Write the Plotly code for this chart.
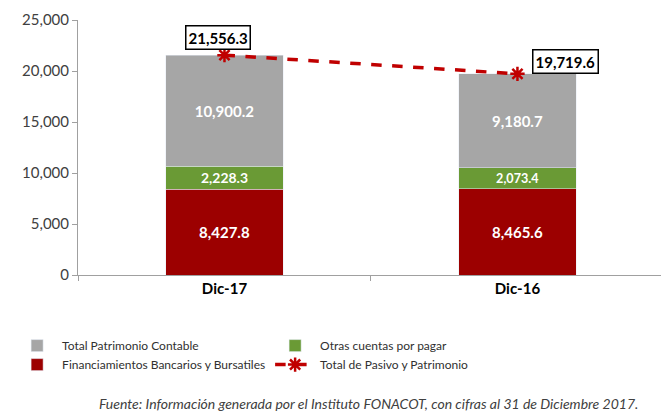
import plotly.graph_objects as go

categories = ["Dic-17", "Dic-16"]
financiamientos = [8427.8, 8465.6]
otras_cuentas = [2228.3, 2073.4]
patrimonio = [10900.2, 9180.7]
total_pasivo_patrimonio = [21556.3, 19719.6]
y_ticks = [0, 5000, 10000, 15000, 20000, 25000]

FONT = "Lato, 'Open Sans', sans-serif"
bar_w = 0.4

def fmt(v):
    return f"{v:,.1f}"

fig = go.Figure()
fig.add_trace(go.Bar(
    x=categories, y=financiamientos, name="Financiamientos Bancarios y Bursatiles",
    marker_color="#9c0000", width=bar_w, legendrank=3,
    text=[fmt(v) for v in financiamientos], textposition="inside", insidetextanchor="middle",
    textfont=dict(color="white", size=15, family=FONT, weight="bold"),
))
fig.add_trace(go.Bar(
    x=categories, y=otras_cuentas, name="Otras cuentas por pagar",
    marker_color="#6a9a35", width=bar_w, legendrank=2,
    text=[fmt(v) for v in otras_cuentas], textposition="inside", insidetextanchor="middle",
    textfont=dict(color="white", size=15, family=FONT, weight="bold"),
))
fig.add_trace(go.Bar(
    x=categories, y=patrimonio, name="Total Patrimonio Contable",
    marker_color="#a6a6a6", width=bar_w, legendrank=1,
    text=[fmt(v) for v in patrimonio], textposition="inside", insidetextanchor="middle",
    textfont=dict(color="white", size=15, family=FONT, weight="bold"),
))
fig.add_trace(go.Scatter(
    x=categories, y=total_pasivo_patrimonio, name="Total de Pasivo y Patrimonio",
    mode="lines+markers", legendrank=4,
    line=dict(color="#c00000", width=3.5, dash="dash"),
    marker=dict(symbol="asterisk-open", size=12, line=dict(color="#c00000", width=2.5)),
))

shifts = [(-6, 18), (48, 12)]
for c, v, (dx, dy) in zip(categories, total_pasivo_patrimonio, shifts):
    fig.add_annotation(
        x=c, y=v, text=f"<b>{fmt(v)}</b>", showarrow=False,
        xshift=dx, yshift=dy, font=dict(size=15, color="black", family=FONT),
        bgcolor="white", bordercolor="black", borderwidth=1.5, borderpad=2,
    )

fig.add_annotation(
    xref="paper", yref="paper", x=0.033, y=-0.505, xanchor="left", yanchor="middle",
    text="<i>Fuente: Información generada por el Instituto FONACOT, con cifras al 31 de Diciembre 2017.</i>",
    showarrow=False, font=dict(size=14, color="#404040", family=FONT),
)

fig.update_layout(
    barmode="stack",
    width=661, height=413,
    margin=dict(l=78, r=0, t=20, b=138),
    paper_bgcolor="white", plot_bgcolor="white",
    font=dict(family=FONT, color="#404040"),
    showlegend=True,
    legend=dict(
        orientation="h", x=-0.113, y=-0.22, xanchor="left", yanchor="top",
        traceorder="normal",
        entrywidth=203, entrywidthmode="pixels",
        font=dict(size=12, color="#303030", family=FONT),
        tracegroupgap=0, itemwidth=40,
    ),
    xaxis=dict(
        range=[-0.5, 1.49], showline=True, linecolor="#a0a0a0", linewidth=1,
        ticks="outside", tickson="boundaries", ticklen=5, tickcolor="#a0a0a0",
        tickfont=dict(size=15, color="black", family=FONT, weight="bold"),
        showgrid=False,
    ),
    yaxis=dict(
        range=[0, 25000], tickvals=y_ticks, tickformat=",",
        showline=True, linecolor="#a0a0a0", linewidth=1,
        ticks="outside", ticklen=5, tickcolor="#a0a0a0",
        tickfont=dict(size=15, color="#404040", family=FONT),
        showgrid=False, zeroline=False,
    ),
)

fig.write_html("out.html", config={"displayModeBar": False},
               post_script="document.body.style.margin='0';")
